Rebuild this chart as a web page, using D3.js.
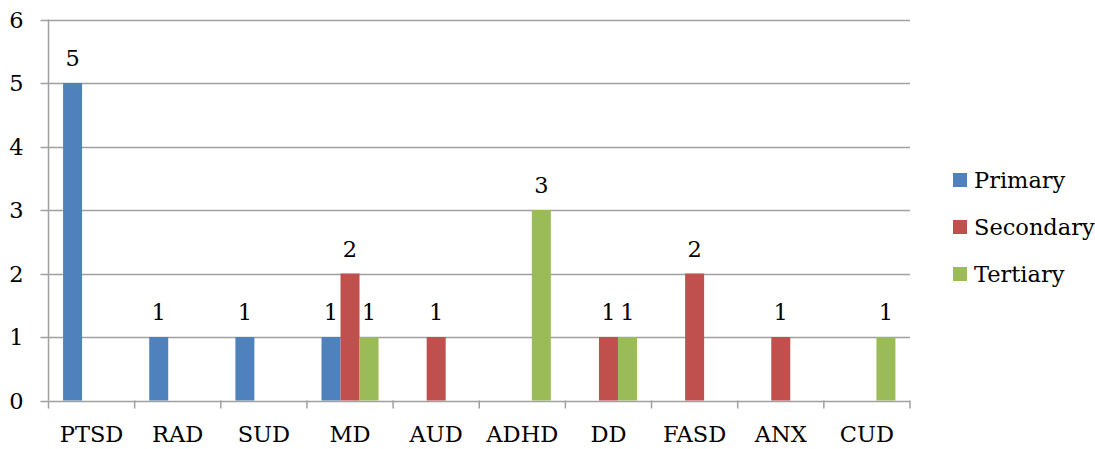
<!DOCTYPE html>
<html><head><meta charset="utf-8">
<script src="https://cdn.jsdelivr.net/npm/d3@7"></script>
<style>body{margin:0;background:#fff}svg{display:block}text{font-family:"DejaVu Serif",serif;fill:#000}</style>
</head><body>
<svg id="c" width="1095" height="449"></svg>
<script>
const categories = ["PTSD","RAD","SUD","MD","AUD","ADHD","DD","FASD","ANX","CUD"];
const seriesNames = ["Primary","Secondary","Tertiary"];
const primary   = [5,1,1,1,0,0,0,0,0,0];
const secondary = [0,0,0,2,1,0,1,2,1,0];
const tertiary  = [0,0,0,1,0,3,1,0,0,1];
const colors = ["#4F81BD","#C0504D","#9BBB59"];
const yTicks = [0,1,2,3,4,5,6];

(function(){
const svg = d3.select("#c");
const fs = 22.5;
const pLeft = 48.5, pRight = 910, pTop = 19.5, pBottom = 400.5;
const x = d3.scaleBand().domain(categories).range([pLeft, pRight]).padding(0);
const inner = d3.scaleBand().domain(seriesNames).range([0, x.bandwidth()]).paddingOuter(0.767).paddingInner(0);
const y = d3.scaleLinear().domain([0,6]).range([pBottom, pTop]);
const grid = "#A0A0A0";

svg.append("g").selectAll("line").data(yTicks).join("line")
  .attr("x1", pLeft-8).attr("x2", pRight).attr("y1", d=>Math.round(y(d))+0.5).attr("y2", d=>Math.round(y(d))+0.5)
  .attr("stroke", grid).attr("stroke-width", 1.5);
svg.append("line").attr("x1", pLeft).attr("x2", pLeft).attr("y1", pTop).attr("y2", pBottom)
  .attr("stroke", grid).attr("stroke-width", 1.5);
svg.append("g").selectAll("text").data(yTicks).join("text")
  .attr("x", 23.5).attr("y", d=>y(d)+8).attr("text-anchor","end").attr("font-size", fs).text(d=>d);
const bounds = categories.map(c=>x(c)).concat([pRight]);
svg.append("g").selectAll("line").data(bounds).join("line")
  .attr("x1", d=>d).attr("x2", d=>d).attr("y1", pBottom).attr("y2", pBottom+8)
  .attr("stroke", grid).attr("stroke-width", 1.5);
svg.append("g").selectAll("text").data(categories).join("text")
  .attr("x", d=>x(d)+x.bandwidth()/2).attr("y", 442).attr("text-anchor","middle").attr("font-size", fs).text(d=>d);

const data = [primary, secondary, tertiary];
seriesNames.forEach((s,i)=>{
  const g = svg.append("g");
  const pts = categories.map((c,j)=>({c, v:data[i][j]})).filter(d=>d.v>0);
  g.selectAll("rect").data(pts).join("rect")
    .attr("x", d=>x(d.c)+inner(s)).attr("width", inner.bandwidth())
    .attr("y", d=>y(d.v)).attr("height", d=>y(0)-y(d.v)).attr("fill", colors[i]);
  g.selectAll("text").data(pts).join("text")
    .attr("x", d=>x(d.c)+inner(s)+inner.bandwidth()/2).attr("y", d=>y(d.v)-17)
    .attr("text-anchor","middle").attr("font-size", fs).text(d=>d.v);
});

const lg = svg.append("g");
seriesNames.forEach((s,i)=>{
  const yy = 173 + i*47;
  lg.append("rect").attr("x", 953).attr("y", yy).attr("width", 14).attr("height", 14).attr("fill", colors[i]);
  lg.append("text").attr("x", 974).attr("y", yy+15).attr("font-size", fs).text(s);
});
})();
</script>
</body></html>
